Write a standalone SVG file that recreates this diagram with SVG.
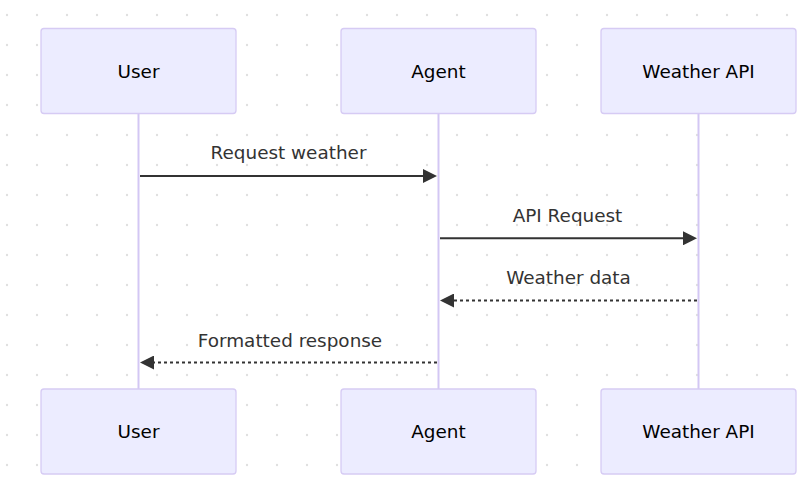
<svg xmlns="http://www.w3.org/2000/svg" width="812" height="491" viewBox="0 0 812 491">
<style>
.actor rect{fill:#ECECFF;stroke:#D6CBF4;stroke-width:1.3}
.actor text{font-family:"DejaVu Sans",Verdana,sans-serif;font-size:18.4px;fill:#000;text-anchor:middle}
.lifeline{stroke:#D3C7F4;stroke-width:2}
.msg{stroke:#333;stroke-width:2;fill:none}
.dashed{stroke-dasharray:3,3}
.label{font-family:"DejaVu Sans",Verdana,sans-serif;font-size:18.4px;fill:#333;text-anchor:middle}
</style>
<defs>
<pattern id="dots" patternUnits="userSpaceOnUse" x="-8" y="0" width="30" height="30">
<circle cx="15" cy="15" r="1.2" fill="#E0E0E0"/>
</pattern>
<marker id="arrow" viewBox="0 0 14 14" refX="11" refY="7" markerWidth="14" markerHeight="14" markerUnits="userSpaceOnUse" orient="auto">
<path d="M0,0 L14,7 L0,14 z" fill="#333"/>
</marker>
</defs>
<rect width="812" height="491" fill="#FFFFFF"/>
<rect width="812" height="491" fill="url(#dots)"/>
<g id="lifelines">
<line class="lifeline" x1="138.5" y1="113.5" x2="138.5" y2="389"/>
<line class="lifeline" x1="438.5" y1="113.5" x2="438.5" y2="389"/>
<line class="lifeline" x1="698.5" y1="113.5" x2="698.5" y2="389"/>
</g>
<g id="actor-user-top" class="actor">
<rect x="41" y="28.5" width="195" height="85" rx="3"/>
<text x="138.5" y="77.7">User</text>
</g>
<g id="actor-agent-top" class="actor">
<rect x="341" y="28.5" width="195" height="85" rx="3"/>
<text x="438.5" y="77.7">Agent</text>
</g>
<g id="actor-api-top" class="actor">
<rect x="601" y="28.5" width="195" height="85" rx="3"/>
<text x="698.5" y="77.7">Weather API</text>
</g>
<g id="actor-user-bottom" class="actor">
<rect x="41" y="389" width="195" height="85" rx="3"/>
<text x="138.5" y="438.2">User</text>
</g>
<g id="actor-agent-bottom" class="actor">
<rect x="341" y="389" width="195" height="85" rx="3"/>
<text x="438.5" y="438.2">Agent</text>
</g>
<g id="actor-api-bottom" class="actor">
<rect x="601" y="389" width="195" height="85" rx="3"/>
<text x="698.5" y="438.2">Weather API</text>
</g>
<g id="connectors">
<line class="msg" x1="140" y1="176" x2="434" y2="176" marker-end="url(#arrow)"/>
<text class="label" x="288.5" y="158.5">Request weather</text>
<line class="msg" x1="440" y1="238.3" x2="694" y2="238.3" marker-end="url(#arrow)"/>
<text class="label" x="567.5" y="221.5">API Request</text>
<line class="msg dashed" x1="697" y1="300.5" x2="443" y2="300.5" marker-end="url(#arrow)"/>
<text class="label" x="568.5" y="283.5">Weather data</text>
<line class="msg dashed" x1="437" y1="362.5" x2="143" y2="362.5" marker-end="url(#arrow)"/>
<text class="label" x="290" y="346.5">Formatted response</text>
</g>
</svg>
